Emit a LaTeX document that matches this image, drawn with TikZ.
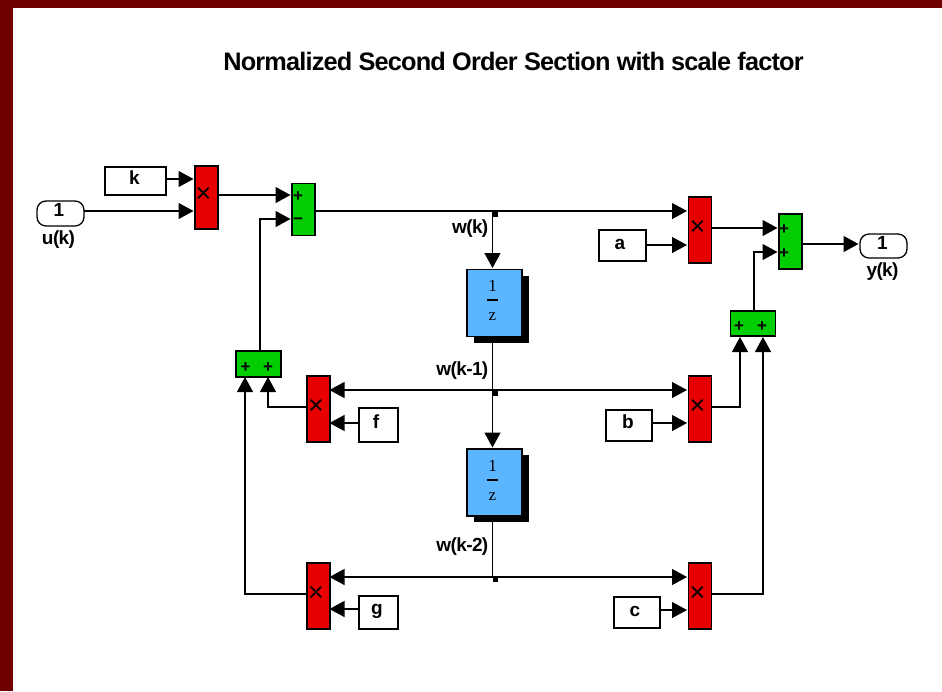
\documentclass[tikz,border=0pt]{standalone}
\usepackage{fontspec}
\setmainfont{Liberation Sans}
\newfontfamily\tightfont[LetterSpace=-3.2]{Liberation Sans}
\newfontfamily\dfont{Liberation Serif}
\usetikzlibrary{arrows.meta}
\definecolor{frame}{HTML}{700000}
\definecolor{mred}{HTML}{E60000}
\definecolor{sgreen}{HTML}{00CE00}
\definecolor{dblue}{HTML}{5CB6FF}
\tikzset{
  blk/.style={draw=black,line width=1.3pt,inner sep=0pt,outer sep=0pt},
  multblk/.style={blk,fill=mred,minimum width=23pt,minimum height=66pt},
  sumv/.style={blk,fill=sgreen,minimum width=23pt},
  sumh/.style={blk,fill=sgreen,minimum width=45pt,minimum height=25pt},
  gain/.style={blk,fill=white,minimum height=31pt},
  port/.style={blk,fill=white,rounded corners=9pt,minimum width=47pt,minimum height=25pt},
  delayblk/.style={blk,fill=dblue,minimum width=55pt,minimum height=67pt},
  shadowblk/.style={fill=black,inner sep=0pt,minimum width=55pt,minimum height=67pt},
  lab/.style={font=\tightfont\fontsize{19}{20}\selectfont\bfseries,inner sep=0pt},
  sym/.style={font=\fontsize{17}{18}\selectfont\bfseries,inner sep=0pt},
  crossmark/.style={font=\fontsize{27}{28}\selectfont,inner sep=0pt},
  dtext/.style={font=\dfont\fontsize{17}{18}\selectfont,inner sep=0pt},
  wire/.style={line width=1.2pt,draw=black},
  sig/.style={wire,-{Triangle[length=15pt,width=16pt]},shorten >=1.5pt},
  sigin/.style={sig,shorten >=-0.5pt},
  jct/.style={fill=black,inner sep=0pt,minimum size=5pt}
}
\begin{document}
\begin{tikzpicture}[x=1pt,y=-1pt]
\useasboundingbox (0,0) rectangle (942,691);
\fill[frame] (0,0) rectangle (942,8);
\fill[frame] (0,0) rectangle (13,691);
\node[inner sep=0pt,font=\tightfont\fontsize{25.3}{27}\selectfont\bfseries] (title) at (513.5,61) {Normalized Second Order Section with scale factor};

% blocks
\node[gain,minimum width=61pt,minimum height=28pt] (k) at (135.5,181) {};
\node[port] (u) at (60.5,213.5) {};
\node[multblk,minimum height=63pt] (mk) at (206.5,197.5) {};
\node[sumv,minimum height=52pt] (s1) at (303.5,209.5) {};
\node[multblk] (ma) at (700,230) {};
\node[gain,minimum width=47pt] (a) at (622.5,245.5) {};
\node[sumv,minimum height=55pt] (s2) at (790.5,241.5) {};
\node[port,minimum height=24pt] (y) at (883.5,246) {};
\node[sumh] (s3) at (753,323.5) {};
\node[sumh,minimum height=26pt] (s4) at (258.5,364) {};
\node[shadowblk] (d1s) at (501.5,309.5) {};
\node[delayblk] (d1) at (494.5,303) {};
\node[shadowblk] (d2s) at (501.5,488.5) {};
\node[delayblk] (d2) at (494.5,482.5) {};
\node[multblk] (mf) at (318.5,409) {};
\node[gain,minimum width=39pt,minimum height=34pt] (f) at (378.5,425) {};
\node[multblk] (mb) at (700,409) {};
\node[gain,minimum width=46pt] (b) at (629,425.5) {};
\node[multblk] (mg) at (318.5,596) {};
\node[gain,minimum width=39pt,minimum height=33pt] (g) at (378.5,612.5) {};
\node[multblk] (mc) at (700,596) {};
\node[gain,minimum width=46pt] (c) at (637,612.5) {};

% block contents
\node[lab] (kt) at (134.5,178) {k};
\node[lab] (at) at (620,244.5) {a};
\node[lab] (ft) at (376,422) {f};
\node[lab] (bt) at (628,422) {b};
\node[lab] (gt) at (377,611) {g};
\node[lab] (ct) at (635,611) {c};
\node[lab] (u1) at (59,210) {1};
\node[lab] (y1) at (882.5,243) {1};
\foreach \n/\px/\py in {xk/203.5/195,xa/697.5/228,xf/316/407,xb/697.5/407,xg/316/594,xc/697.5/594}
  \node[crossmark] (\n) at (\px,\py) {×};
\foreach \n/\px/\py in {p1/298/196.5,p2/784/229.5,p3/784/253.5,p4/739/326.5,p5/762/326.5,p6/245.5/367.5,p7/268/367.5}
  \node[sym] (\n) at (\px,\py) {+};
\node[sym] (m1) at (298,221) {−};
\node[dtext] (d1a) at (492.5,286) {1};
\node[dtext] (d1b) at (492.5,317) {z};
\draw[line width=1.6pt] (487,300) -- (498,300);
\node[dtext] (d2a) at (492.5,465.5) {1};
\node[dtext] (d2b) at (492.5,496.5) {z};
\draw[line width=1.6pt] (487,480) -- (498,480);

% signal labels
\node[lab,anchor=east] (wk) at (488.5,229) {w(k)};
\node[lab,anchor=east] (wk1) at (488.5,371) {w(k-1)};
\node[lab,anchor=east] (wk2) at (488.5,547) {w(k-2)};
\node[lab] (ul) at (58.5,240) {u(k)};
\node[lab] (yl) at (882.5,272) {y(k)};

% junctions and port coordinates
\node[jct] (j1) at (495,214) {};
\node[jct] (j2) at (495,393) {};
\node[jct] (j3) at (495,579) {};
\coordinate (w1) at (492.5,211);
\coordinate (w2) at (492.5,390);
\coordinate (w3) at (492.5,577);
\coordinate (kin) at (195,179);
\coordinate (uin) at (195,211);
\coordinate (s1a) at (292,195);
\coordinate (s1b) at (292,219);
\coordinate (s2a) at (779,228);
\coordinate (s2b) at (779,252);
\coordinate (s3l) at (740,335.5);
\coordinate (s3r) at (763,335.5);
\coordinate (s4l) at (245,375.5);
\coordinate (s4r) at (268,375.5);

% connectors
\draw[sig] (k.east |- kin) -- (kin);
\draw[sig] (u.east |- uin) -- (uin);
\draw[sig] (mk.east |- s1a) -- (s1a);
\draw[sig] (s4.north -| 260,0) |- (s1b);
\draw[sig] (s1.east |- w1) -- (ma.west |- w1);
\draw[sig] (w1) -- (d1.north -| w1);
\draw[sig] (a.east |- 0,245) -- (ma.west |- 0,245);
\draw[sig] (ma.east |- s2a) -- (s2a);
\draw[sig] (s3.north -| 754,0) |- (s2b);
\draw[sig] (s2.east |- 0,244) -- (y.west |- 0,244);
\draw[wire] (d1.south -| w2) -- (w2);
\draw[sig] (w2) -- (d2.north -| w2);
\draw[sigin] (w2) -- (mf.east |- w2);
\draw[sig] (w2) -- (mb.west |- w2);
\draw[wire] (d2.south -| w3) -- (w3);
\draw[sigin] (w3) -- (mg.east |- w3);
\draw[sig] (w3) -- (mc.west |- w3);
\draw[sigin] (f.west |- 0,423) -- (mf.east |- 0,423);
\draw[sig] (b.east |- 0,423) -- (mb.west |- 0,423);
\draw[sigin] (g.west |- 0,609) -- (mg.east |- 0,609);
\draw[sig] (c.east |- 0,610) -- (mc.west |- 0,610);
\draw[sig] (mf.west |- 0,407) -| (s4r);
\draw[sig] (mg.west |- 0,594) -| (s4l);
\draw[sig] (mb.east |- 0,407) -| (s3l);
\draw[sig] (mc.east |- 0,594) -| (s3r);
\end{tikzpicture}
\end{document}
